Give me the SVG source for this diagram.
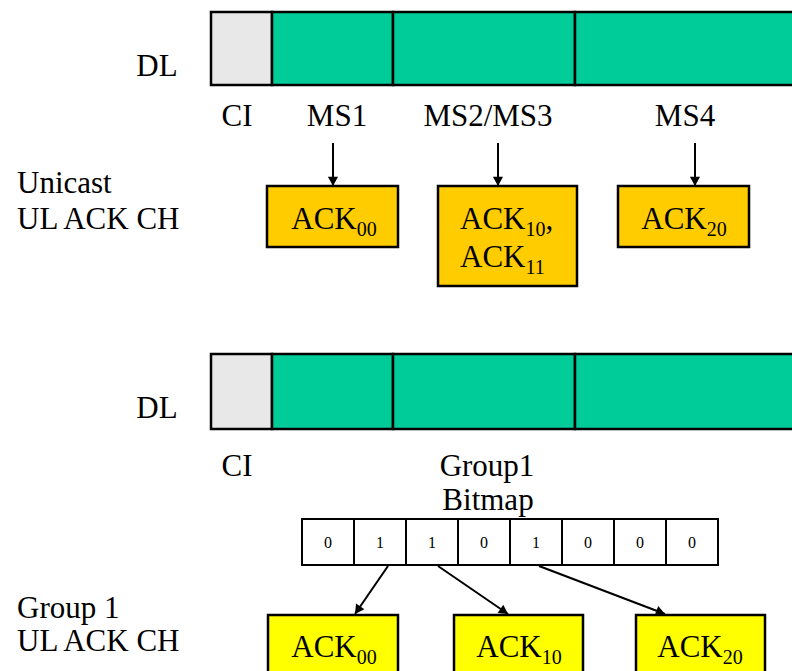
<svg xmlns="http://www.w3.org/2000/svg" width="792" height="671" viewBox="0 0 792 671">
  <defs>
    <marker id="arr" viewBox="0 0 10 12" refX="10" refY="6" markerWidth="11" markerHeight="11" markerUnits="userSpaceOnUse" orient="auto">
      <path d="M0,0.5 L10,6 L0,11.5 z" fill="#000"/>
    </marker>
    <style>
      text { fill: #000; }
      .lbl { font-size: 31px; }
      .mid { text-anchor: middle; }
      .sub { font-size: 20px; }
      .bit { font-size: 16px; text-anchor: middle; }
      .ci { fill: #E8E8E8; stroke: #000; stroke-width: 2.5; }
      .slot { fill: #00CC99; stroke: #000; stroke-width: 2.5; }
      .ackU { fill: #FFCC00; stroke: #000; stroke-width: 2.5; }
      .ackG { fill: #FFFF00; stroke: #000; stroke-width: 2.5; }
      .cell { fill: #FFFFFF; stroke: #000; stroke-width: 2; }
      .conn { stroke: #000; stroke-width: 2; fill: none; marker-end: url(#arr); }
    </style>
  </defs>
  <rect width="792" height="671" fill="#FFFFFF"/>

  <!-- Unicast frame -->
  <g id="dl-unicast">
    <text class="lbl mid" font-family="Liberation Serif" x="157" y="76">DL</text>
    <rect class="ci" x="211" y="12" width="61" height="73"/>
    <rect class="slot" x="272" y="12" width="121" height="73"/>
    <rect class="slot" x="393" y="12" width="182" height="73"/>
    <rect class="slot" x="575" y="12" width="230" height="73"/>
    <text class="lbl mid" font-family="Liberation Serif" x="237" y="126">CI</text>
    <text class="lbl mid" font-family="Liberation Serif" x="337" y="126">MS1</text>
    <text class="lbl mid" font-family="Liberation Serif" x="488" y="126">MS2/MS3</text>
    <text class="lbl mid" font-family="Liberation Serif" x="685" y="126">MS4</text>
  </g>
  <g id="unicast-label">
    <text class="lbl" font-family="Liberation Serif" x="17" y="193">Unicast</text>
    <text class="lbl" font-family="Liberation Serif" x="17" y="229">UL ACK CH</text>
  </g>
  <g id="u-ack00">
    <rect class="ackU" x="267" y="186" width="131" height="61"/>
    <text class="lbl mid" font-family="Liberation Serif" x="334" y="229">ACK<tspan class="sub" dy="7">00</tspan></text>
  </g>
  <g id="u-ack1x">
    <rect class="ackU" x="438" y="186" width="139" height="100"/>
    <text class="lbl" font-family="Liberation Serif" x="460" y="229">ACK<tspan class="sub" dy="7">10</tspan><tspan dy="-7">,</tspan></text>
    <text class="lbl" font-family="Liberation Serif" x="460" y="267">ACK<tspan class="sub" dy="7">11</tspan></text>
  </g>
  <g id="u-ack20">
    <rect class="ackU" x="618" y="186" width="131" height="61"/>
    <text class="lbl mid" font-family="Liberation Serif" x="684" y="229">ACK<tspan class="sub" dy="7">20</tspan></text>
  </g>

  <!-- Group frame -->
  <g id="dl-group">
    <text class="lbl mid" font-family="Liberation Serif" x="157" y="418">DL</text>
    <rect class="ci" x="211" y="354" width="61" height="75"/>
    <rect class="slot" x="272" y="354" width="121" height="75"/>
    <rect class="slot" x="393" y="354" width="182" height="75"/>
    <rect class="slot" x="575" y="354" width="230" height="75"/>
    <text class="lbl mid" font-family="Liberation Serif" x="237" y="476">CI</text>
    <text class="lbl mid" font-family="Liberation Serif" x="487" y="476">Group1</text>
    <text class="lbl mid" font-family="Liberation Serif" x="488" y="510">Bitmap</text>
  </g>
  <g id="bitmap">
    <rect class="cell" x="302" y="519" width="52" height="46"/>
    <rect class="cell" x="354" y="519" width="52" height="46"/>
    <rect class="cell" x="406" y="519" width="52" height="46"/>
    <rect class="cell" x="458" y="519" width="52" height="46"/>
    <rect class="cell" x="510" y="519" width="52" height="46"/>
    <rect class="cell" x="562" y="519" width="52" height="46"/>
    <rect class="cell" x="614" y="519" width="52" height="46"/>
    <rect class="cell" x="666" y="519" width="52" height="46"/>
    <text class="bit" font-family="Liberation Serif" x="328" y="548">0</text>
    <text class="bit" font-family="Liberation Serif" x="380" y="548">1</text>
    <text class="bit" font-family="Liberation Serif" x="432" y="548">1</text>
    <text class="bit" font-family="Liberation Serif" x="484" y="548">0</text>
    <text class="bit" font-family="Liberation Serif" x="536" y="548">1</text>
    <text class="bit" font-family="Liberation Serif" x="588" y="548">0</text>
    <text class="bit" font-family="Liberation Serif" x="640" y="548">0</text>
    <text class="bit" font-family="Liberation Serif" x="692" y="548">0</text>
  </g>
  <g id="group-label">
    <text class="lbl" font-family="Liberation Serif" x="17" y="618">Group 1</text>
    <text class="lbl" font-family="Liberation Serif" x="17" y="651">UL ACK CH</text>
  </g>
  <g id="g-ack00">
    <rect class="ackG" x="268" y="615" width="130" height="70"/>
    <text class="lbl mid" font-family="Liberation Serif" x="334" y="657">ACK<tspan class="sub" dy="7">00</tspan></text>
  </g>
  <g id="g-ack10">
    <rect class="ackG" x="454" y="615" width="129" height="70"/>
    <text class="lbl mid" font-family="Liberation Serif" x="519" y="657">ACK<tspan class="sub" dy="7">10</tspan></text>
  </g>
  <g id="g-ack20">
    <rect class="ackG" x="636" y="615" width="129" height="70"/>
    <text class="lbl mid" font-family="Liberation Serif" x="700" y="657">ACK<tspan class="sub" dy="7">20</tspan></text>
  </g>

  <!-- Connectors -->
  <g id="connectors">
    <line class="conn" x1="333" y1="143" x2="333" y2="186"/>
    <line class="conn" x1="498" y1="143" x2="498" y2="186"/>
    <line class="conn" x1="695" y1="143" x2="695" y2="186"/>
    <line class="conn" x1="388" y1="566" x2="355" y2="614"/>
    <line class="conn" x1="438" y1="566" x2="508" y2="614"/>
    <line class="conn" x1="539" y1="566" x2="665" y2="614"/>
  </g>
</svg>
